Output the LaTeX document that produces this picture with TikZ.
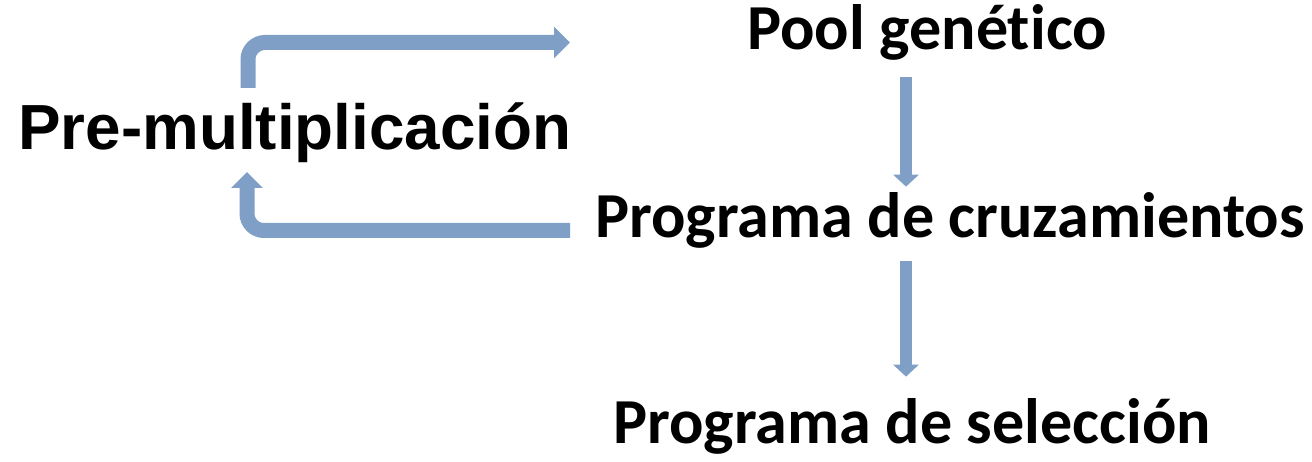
\documentclass[tikz,border=0pt]{standalone}
\usepackage{fontspec}
\setmainfont{Carlito}[Ligatures=NoCommon]
\newfontfamily\arialfont{Liberation Sans}
\usetikzlibrary{arrows.meta,positioning}
\definecolor{flechaazul}{RGB}{127,159,198}
\begin{document}
\begin{tikzpicture}[
  x=0.02cm, y=-0.02cm,
  etapa/.style={inner sep=0pt, anchor=base west, font=\fontsize{36.5pt}{40pt}\selectfont\bfseries},
  flechav/.style={draw=flechaazul, line width=0.24cm, -{Triangle[length=0.24cm, width=0.5cm]}},
  flechalazo/.style={draw=flechaazul, line width=0.3cm, rounded corners=0.34cm, -{Triangle[length=0.32cm, width=0.62cm]}}
]
\useasboundingbox (0,0) rectangle (1312,462);
\node[etapa] (pool) at (747,50) {Pool genético};
\node[etapa] (cruce) at (595,238) {Programa de cruzamientos};
\node[etapa] (seleccion) at (613,443) {Programa de selección};
\node[etapa, font=\fontsize{36.3pt}{40pt}\selectfont\arialfont\bfseries] (premult) at (18,150) {Pre-multiplicación};

\coordinate (eje) at (906,0);
\draw[flechav, shorten <=15.5*0.02cm, shorten >=6*0.02cm] (pool.south -| eje) -- (cruce.north -| eje);
\draw[flechav, shorten <=11.5*0.02cm, shorten >=21*0.02cm] (cruce.south -| eje) -- (seleccion.north -| eje);

% lazo de ida y vuelta
\draw[flechalazo, shorten <=62*0.02cm, shorten >=25*0.02cm] (premult.base -| 248,0) |- (cruce.west |- 0,42.5);
\draw[flechalazo, shorten <=25*0.02cm, shorten >=22*0.02cm] (cruce.west |- 0,230.5) -| (premult.base -| 247,0);
\end{tikzpicture}
\end{document}
